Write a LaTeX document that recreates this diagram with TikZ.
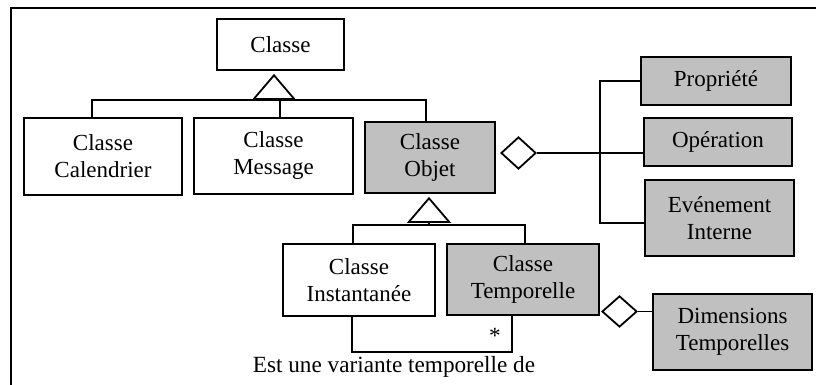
\documentclass[tikz,border=0pt]{standalone}
\usepackage{fontspec}
\setmainfont{Liberation Serif}
\usetikzlibrary{shapes.geometric,arrows.meta}
\definecolor{boxgray}{RGB}{192,192,192}
\begin{document}
\begin{tikzpicture}[x=0.5pt,y=-0.5pt,
  box/.style={draw,line width=0.9pt,align=center,inner sep=0pt,font=\fontsize{11.5}{13.5}\selectfont},
  gbox/.style={box,fill=boxgray},
  agg/.style={draw,diamond,fill=white,line width=0.9pt,inner sep=0pt,minimum width=17.5pt,minimum height=16pt},
  link/.style={line width=0.9pt},
  gen/.style={line width=0.9pt,-{Triangle[open,width=22pt,length=13pt]},shorten >=1.5pt},
  lbl/.style={font=\fontsize{11.6}{14}\selectfont,inner sep=0pt}]
\useasboundingbox (0,0) rectangle (816,385);
% frame
\coordinate (fbl) at (11,385); \coordinate (ftl) at (11,8); \coordinate (ftr) at (816,8);
\draw[line width=1pt] (fbl) -- (ftl) -- (ftr);
% nodes
\node[box,minimum width=63.5pt,minimum height=25.5pt] (classe) at (280.5,44.5) {Classe};
\node[box,minimum width=79pt,minimum height=38.5pt] (cal) at (103,156.5) {Classe\\Calendrier};
\node[box,minimum width=79.5pt,minimum height=38pt] (msg) at (273.5,156) {Classe\\Message};
\node[gbox,minimum width=65pt,minimum height=35.5pt] (obj) at (430,157.5) {Classe\\Objet};
\node[gbox,minimum width=75pt,minimum height=24pt] (prop) at (716,81) {Propriété};
\node[gbox,minimum width=74pt,minimum height=24pt] (op) at (718,142) {Opération};
\node[gbox,minimum width=74.5pt,minimum height=38pt] (evt) at (719.5,218) {Evénement\\Interne};
\node[box,minimum width=76pt,minimum height=36pt] (inst) at (359,280) {Classe\\Instantanée};
\node[gbox,minimum width=76pt,minimum height=35.5pt] (temp) at (523,279.5) {Classe\\Temporelle};
\node[gbox,minimum width=79.5pt,minimum height=38pt] (dim) at (732.5,332) {Dimensions\\Temporelles};
\node[agg] (d1) at (518.5,153) {};
\node[agg,minimum height=15.5pt] (d2) at (619.5,311.5) {};
% generalization Classe
\coordinate (b1l) at (92,100); \coordinate (b1m) at (274,100);
\coordinate (b1r) at (426,100); \coordinate (b1msg) at (280,100);
\draw[link] (cal.north -| b1l) -- (b1l) -- (b1r) -- (obj.north -| b1r);
\draw[link] (b1msg) -- (msg.north -| b1msg);
\draw[gen] (b1m) -- (classe.south -| b1m);
% generalization Classe Objet
\coordinate (b2l) at (353,225); \coordinate (b2m) at (429,225); \coordinate (b2r) at (525,225);
\draw[link] (inst.north -| b2l) -- (b2l) -- (b2r) -- (temp.north -| b2r);
\draw[gen] (b2m) -- (obj.south -| b2m);
% aggregations
\draw[link] (d1.east) -- (op.west |- d1.east);
\coordinate (brt) at (600,81); \coordinate (brb) at (600,223);
\draw[link] (prop.west) -- (brt) -- (brb) -- (evt.west |- brb);
\draw[link] (d2.east) -- (dim.west |- d2.east);
% self association
\coordinate (sl) at (352,352); \coordinate (sr) at (512,352);
\draw[link] (inst.south -| sl) -- (sl) -- (sr) -- (temp.south -| sr);
\node[lbl] (star) at (495,336) {*};
\node[lbl] (variant) at (394,367) {Est une variante temporelle de};
\end{tikzpicture}
\end{document}
